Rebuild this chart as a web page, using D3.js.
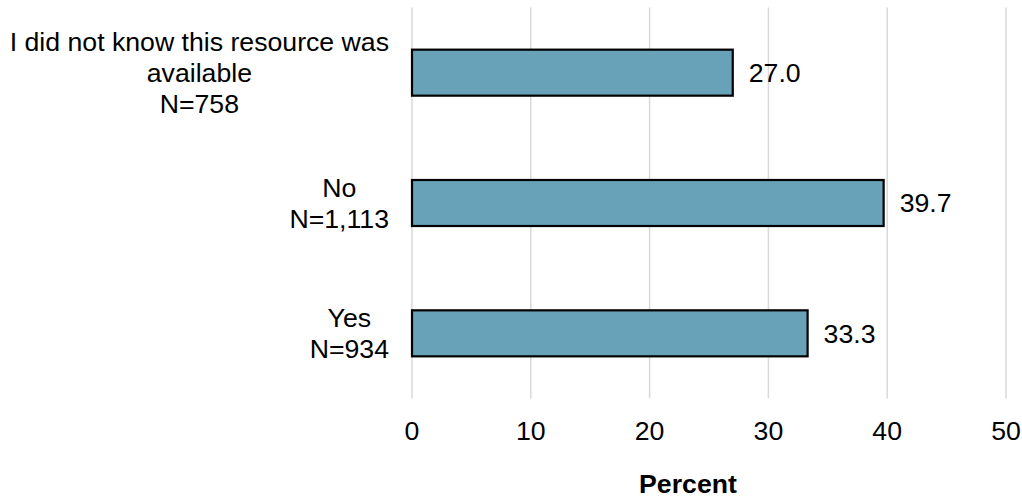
<!DOCTYPE html>
<html>
<head>
<meta charset="utf-8">
<script src="https://cdn.jsdelivr.net/npm/d3@7"></script>
<style>
  html, body { margin: 0; padding: 0; background: #ffffff; }
  svg { display: block; font-family: "Liberation Sans", Arial, sans-serif; }
</style>
</head>
<body>
<svg id="chart" width="1022" height="498"></svg>
<script>
// Response categories (each line of a label is one entry)
const categories = [
  ["I did not know this resource was", "available", "N=758"],
  ["No", "N=1,113"],
  ["Yes", "N=934"]
];
const percents = [27.0, 39.7, 33.3];
const xTicks = [0, 10, 20, 30, 40, 50];
const xTitle = "Percent";

const svg = d3.select("#chart");
const plot = { left: 412, right: 1006, top: 7.5, bottom: 398.5 };
const fontSize = 26.67;
const lineH = 30.7;

const x = d3.scaleLinear().domain([0, 50]).range([plot.left, plot.right]);
const y = d3.scaleBand()
  .domain(categories.map((d, i) => i))
  .range([plot.top, plot.bottom])
  .paddingInner(0.647)
  .paddingOuter(0.3235);

// Vertical gridlines
svg.append("g")
  .selectAll("line")
  .data(xTicks)
  .join("line")
  .attr("x1", d => x(d)).attr("x2", d => x(d))
  .attr("y1", plot.top).attr("y2", plot.bottom)
  .attr("stroke", "#d9d9d9")
  .attr("stroke-width", 1.5);

// Bars
svg.append("g")
  .selectAll("rect")
  .data(percents)
  .join("rect")
  .attr("x", x(0))
  .attr("y", (d, i) => y(i))
  .attr("width", d => x(d) - x(0))
  .attr("height", y.bandwidth())
  .attr("fill", "#68A2B8")
  .attr("stroke", "#000000")
  .attr("stroke-width", 2.2);

// Value labels
svg.append("g")
  .selectAll("text")
  .data(percents)
  .join("text")
  .attr("x", d => x(d) + 16)
  .attr("y", (d, i) => y(i) + y.bandwidth() / 2)
  .attr("dy", "0.35em")
  .attr("font-size", fontSize)
  .attr("fill", "#000")
  .text(d => d.toFixed(1));

// Category labels: lines centred within a block right-aligned to the axis
const labelRight = 389;
const catG = svg.append("g");
categories.forEach((lines, i) => {
  const cy = y(i) + y.bandwidth() / 2;
  const t = catG.append("text")
    .attr("font-size", fontSize)
    .attr("fill", "#000")
    .attr("text-anchor", "middle");
  const spans = lines.map((s, k) =>
    t.append("tspan")
      .attr("y", cy + (k - (lines.length - 1) / 2) * lineH)
      .attr("dy", "0.35em")
      .text(s));
  const maxW = d3.max(spans, sp => sp.node().getComputedTextLength());
  spans.forEach(sp => sp.attr("x", labelRight - maxW / 2));
});

// X axis tick labels
svg.append("g")
  .selectAll("text")
  .data(xTicks)
  .join("text")
  .attr("x", d => x(d))
  .attr("y", 431)
  .attr("dy", "0.35em")
  .attr("text-anchor", "middle")
  .attr("font-size", fontSize)
  .attr("fill", "#000")
  .text(d => d);

// Axis title
svg.append("text")
  .attr("x", 688)
  .attr("y", 493)
  .attr("text-anchor", "middle")
  .attr("font-size", fontSize)
  .attr("font-weight", "bold")
  .attr("fill", "#000")
  .text(xTitle);
</script>
</body>
</html>
